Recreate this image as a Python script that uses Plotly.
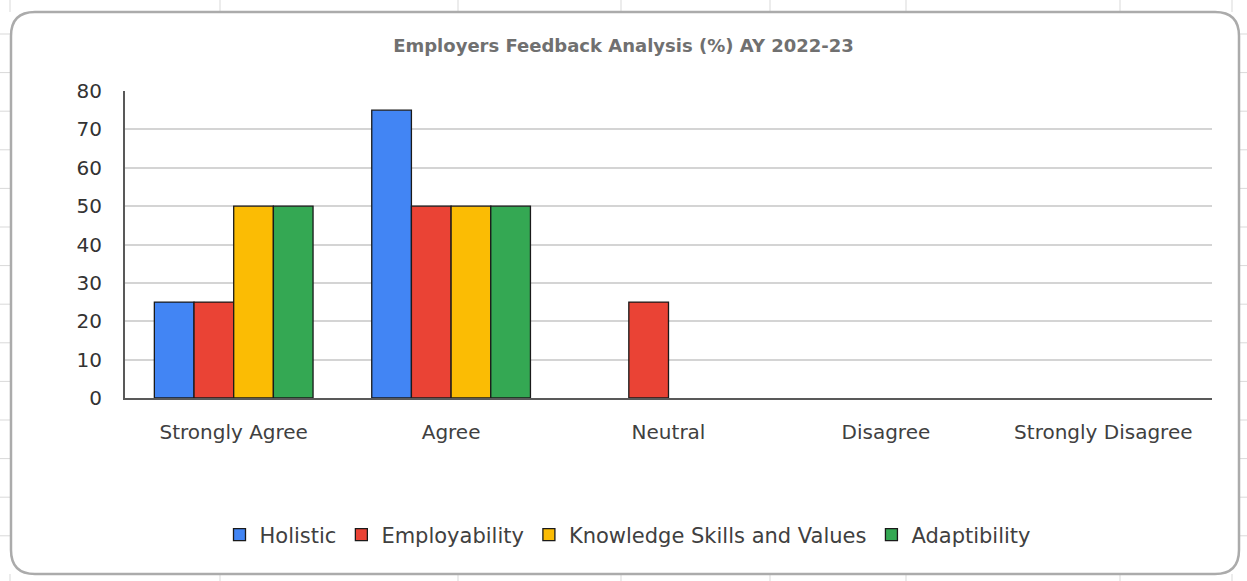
import plotly.graph_objects as go

categories = ["Strongly Agree", "Agree", "Neutral", "Disagree", "Strongly Disagree"]
holistic = [25, 75, 0, 0, 0]
employability = [25, 50, 25, 0, 0]
knowledge = [50, 50, 0, 0, 0]
adaptibility = [50, 50, 0, 0, 0]
series_names = ["Holistic", "Employability", "Knowledge Skills and Values", "Adaptibility"]
series_values = [holistic, employability, knowledge, adaptibility]
colors = ["#4285F4", "#EA4335", "#FBBC04", "#34A853"]
y_ticks = [0, 10, 20, 30, 40, 50, 60, 70, 80]

W, H = 1247, 581
L, R, T, B = 125, 1212, 91, 398


def xp(px):
    return (px - L) / (R - L)


def yp(py):
    return (B - py) / (B - T)


fig = go.Figure()
for name, vals, col in zip(series_names, series_values, colors):
    fig.add_trace(go.Bar(
        x=categories, y=vals, name=name,
        marker=dict(color=col,
                    line=dict(color="#1a1a1a", width=[1.3 if v > 0 else 0 for v in vals])),
    ))

shapes = []
# spreadsheet cell lines visible outside the chart
grid_color = "#d9d9d9"
for cx in [10, 220, 458, 621, 770, 906, 1120, 1232]:
    shapes.append(dict(type="line", xref="paper", yref="paper",
                       x0=xp(cx), x1=xp(cx), y0=yp(0), y1=yp(12),
                       line=dict(color=grid_color, width=1), layer="below"))
    shapes.append(dict(type="line", xref="paper", yref="paper",
                       x0=xp(cx), x1=xp(cx), y0=yp(574), y1=yp(581),
                       line=dict(color=grid_color, width=1), layer="below"))
for k in range(14):
    ry = 34 + 38.6 * k
    shapes.append(dict(type="line", xref="paper", yref="paper",
                       x0=xp(0), x1=xp(11), y0=yp(ry), y1=yp(ry),
                       line=dict(color=grid_color, width=1), layer="below"))
    shapes.append(dict(type="line", xref="paper", yref="paper",
                       x0=xp(1239), x1=xp(1247), y0=yp(ry), y1=yp(ry),
                       line=dict(color=grid_color, width=1), layer="below"))

# rounded chart border
bl, br, bt, bb, rr = 11, 1239, 12, 574, 24


def P(x, y):
    return f"{xp(x):.5f},{yp(y):.5f}"


path = (f"M {P(bl + rr, bt)} L {P(br - rr, bt)} Q {P(br, bt)} {P(br, bt + rr)} "
        f"L {P(br, bb - rr)} Q {P(br, bb)} {P(br - rr, bb)} "
        f"L {P(bl + rr, bb)} Q {P(bl, bb)} {P(bl, bb - rr)} "
        f"L {P(bl, bt + rr)} Q {P(bl, bt)} {P(bl + rr, bt)} Z")
shapes.append(dict(type="path", xref="paper", yref="paper", path=path,
                   fillcolor="white", line=dict(color="#ababab", width=2.5), layer="below"))

fig.update_layout(
    width=W, height=H,
    margin=dict(l=L, r=W - R, t=T, b=H - B, pad=0),
    paper_bgcolor="white", plot_bgcolor="rgba(0,0,0,0)",
    barmode="group", bargap=0.27, bargroupgap=0,
    font=dict(family="DejaVu Sans", color="#404040"),
    title=dict(text="<b>Employers Feedback Analysis (%) AY 2022-23</b>",
               x=0.5, xanchor="center", y=1 - 46 / H, yanchor="middle",
               font=dict(family="DejaVu Sans", size=18, color="#707070")),
    showlegend=True,
    legend=dict(orientation="h", x=xp(628), xanchor="center", y=yp(535), yanchor="middle",
                font=dict(family="DejaVu Sans", size=21, color="#404040"),
                itemwidth=30, tracegroupgap=0, bgcolor="rgba(0,0,0,0)"),
    shapes=shapes,
)
fig.update_xaxes(
    showgrid=False, showline=True, linecolor="#595959", linewidth=2,
    tickfont=dict(family="DejaVu Sans", size=20, color="#404040"),
    ticks="", ticklabelstandoff=15, zeroline=False,
)
fig.update_yaxes(
    range=[0, 80], tickvals=y_ticks, showgrid=True, gridcolor="#d4d4d4", gridwidth=2,
    showline=True, linecolor="#595959", linewidth=2, zeroline=False,
    tickfont=dict(family="DejaVu Sans", size=20, color="#333333"),
    ticks="", ticklabelstandoff=17,
)

fig.write_html("out.html", config={"displayModeBar": False},
               post_script="document.body.style.margin='0px';")
